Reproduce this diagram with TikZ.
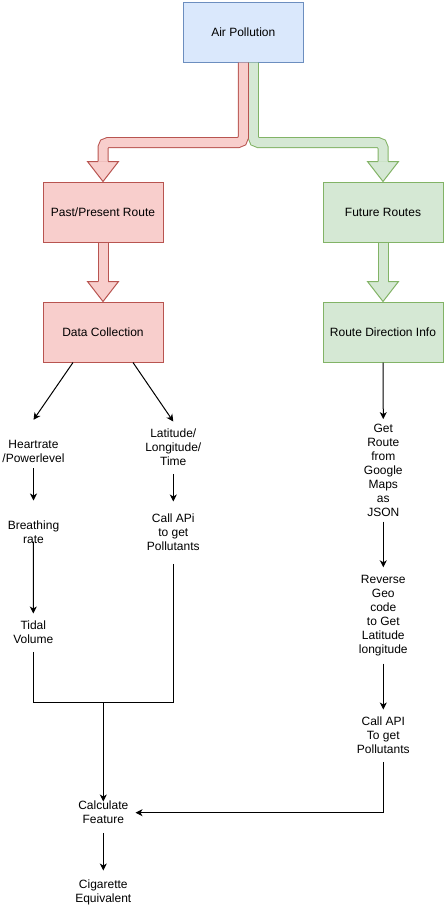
\documentclass[tikz,border=0pt]{standalone}
\usepackage{fontspec}
\setmainfont{Liberation Sans}
\usetikzlibrary{arrows.meta}

\definecolor{bluefill}{HTML}{DAE8FC}
\definecolor{blueline}{HTML}{6C8EBF}
\definecolor{redfill}{HTML}{F8CECC}
\definecolor{redline}{HTML}{B85450}
\definecolor{greenfill}{HTML}{D5E8D4}
\definecolor{greenline}{HTML}{82B366}

\begin{document}
\begin{tikzpicture}[x=1pt, y=-1pt,
    box/.style={draw, line width=1pt, minimum width=120pt, minimum height=60pt, inner sep=0pt, font=\fontsize{12}{14}\selectfont},
    txt/.style={align=center, inner sep=0pt, minimum width=60pt, font=\fontsize{12}{14}\selectfont},
    link/.style={line width=1pt},
    flow/.style={link, ->, >={Stealth[length=7pt, width=7pt, inset=2pt]}},
    flex/.style={line width=1pt, double distance=9pt, rounded corners=5pt}]
\useasboundingbox (0,0) rectangle (446,908);

% Boxes
\node[box, fill=bluefill, draw=blueline] (air) at (243.3,32) {Air Pollution};
\node[box, fill=redfill, draw=redline] (past) at (103,212) {Past/Present Route};
\node[box, fill=greenfill, draw=greenline] (future) at (383,212) {Future Routes};
\node[box, fill=redfill, draw=redline] (collect) at (103,332) {Data Collection};
\node[box, fill=greenfill, draw=greenline] (routeinfo) at (383,332) {Route Direction Info};

% Text nodes
\node[txt, minimum height=34pt] (heart) at (33.5,451) {Heartrate\\/Powerlevel};
\node[txt, minimum height=52pt] (latlon) at (173.3,447.7) {Latitude/\\Longitude/\\Time};
\node[txt, minimum height=64pt] (breath) at (33.5,532.7) {Breathing\\rate};
\node[txt, minimum height=62pt] (callapi) at (173.3,532.7) {Call APi\\to get\\Pollutants};
\node[txt, minimum height=38pt] (tidal) at (33.3,632.7) {Tidal\\Volume};
\node[txt, minimum height=40pt, minimum width=64pt] (calc) at (103.3,812.7) {Calculate\\Feature};
\node[txt, minimum height=44pt] (cig) at (103.3,892.7) {Cigarette\\Equivalent};
\node[txt, minimum height=102pt] (getroute) at (383.3,470.3) {Get\\Route\\from\\Google\\Maps\\as\\JSON};
\node[txt, minimum height=96pt] (reverse) at (383.3,615.5) {Reverse\\Geo\\code\\to Get\\Latitude\\longitude};
\node[txt, minimum height=52pt] (callapiroute) at (383.3,735.7) {Call API\\To get\\Pollutants};
\coordinate (merge) at (103.3,702.3);

% Wide arrows
\draw[flex, draw=greenline, double=greenfill] ([xshift=10pt]air.south) -- ++(0,80) -| ([yshift=20pt]future.north);
\draw[flex, draw=redline, double=redfill] (air.south) -- ++(0,80) -| ([yshift=20pt]past.north);
\draw[flex, draw=redline, double=redfill] (past.south) -- ([yshift=20pt]collect.north);
\draw[flex, draw=greenline, double=greenfill] (future.south) -- ([yshift=20pt]routeinfo.north);
\foreach \n/\f/\d in {past/redfill/redline, collect/redfill/redline, future/greenfill/greenline, routeinfo/greenfill/greenline}
  \filldraw[fill=\f, draw=\d, line width=1pt] ([xshift=-5pt, yshift=20pt]\n.north) -- ++(-10.5,0) -- (\n.north) -- ([xshift=15.5pt, yshift=20pt]\n.north) -- ++(-10.5,0);

% Arrows
\draw[flow] ([xshift=-30pt]collect.south) -- ([yshift=14pt]heart.north);
\draw[flow] ([xshift=30pt]collect.south) -- (latlon.north);
\draw[flow] (heart.south) -- (breath.north);
\draw[flow] (latlon.south) -- (callapi.north);
\draw[flow] ([yshift=-9pt]breath.center) -- (tidal.north);
\draw[link] (tidal.south) |- (merge);
\draw[link] (callapi.south) |- (merge);
\draw[flow] (merge) -- ([yshift=-9pt]calc.north);
\draw[flow] (calc.south) -- (cig.north);
\draw[flow] (routeinfo.south) -- (getroute.north);
\draw[flow] (getroute.south) -- (reverse.north);
\draw[flow] (reverse.south) -- (callapiroute.north);
\draw[flow] (callapiroute.south) |- (calc.east);
\end{tikzpicture}
\end{document}
